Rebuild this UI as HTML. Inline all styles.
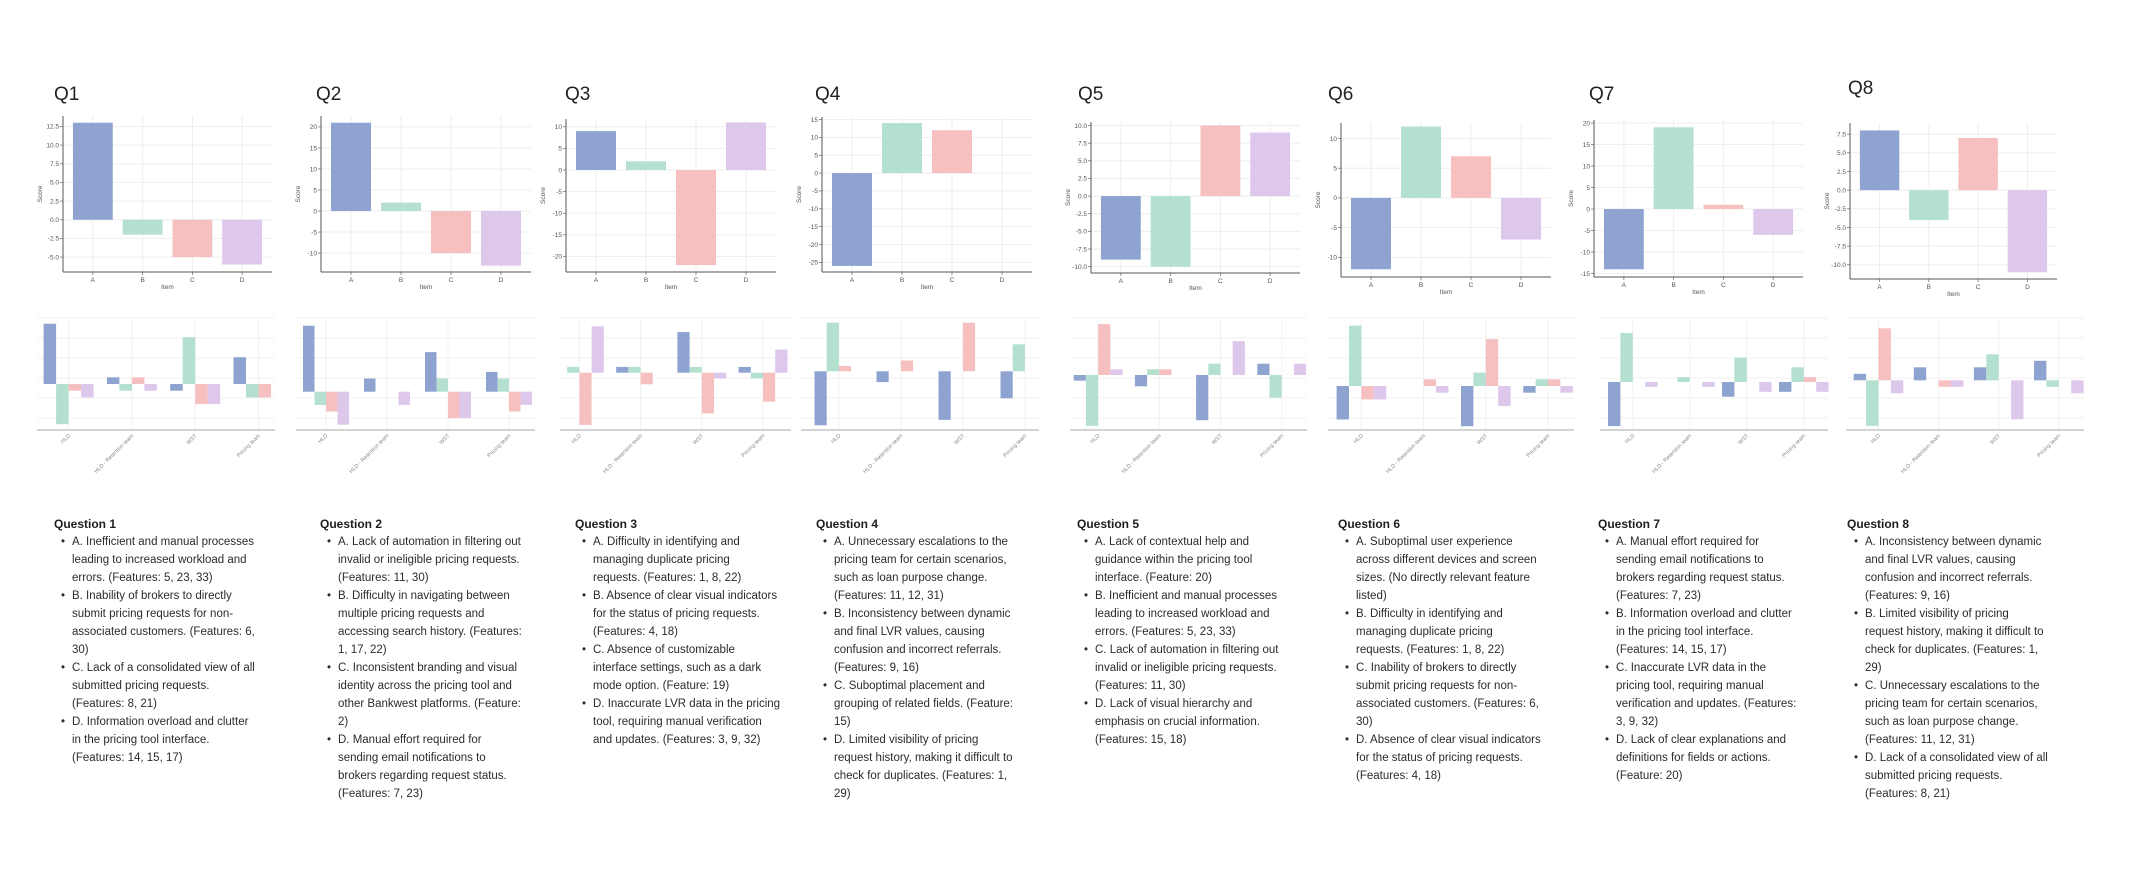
<!DOCTYPE html>
<html><head><meta charset="utf-8"><title>Q1-Q8 charts</title>
<style>
html,body{margin:0;padding:0;background:#fff;}
body{width:2133px;height:872px;position:relative;overflow:hidden;font-family:"Liberation Sans",sans-serif;}
svg{position:absolute;left:0;top:0;}
.col{position:absolute;top:515px;font-size:11.5px;line-height:18px;color:#2b2b2b;white-space:nowrap;}
.col h3{margin:0;font-size:12px;font-weight:bold;line-height:18px;color:#1e1e1e;}
.it{position:relative;padding-left:18px;}
.it:before{content:"•";position:absolute;left:7px;top:0;}
</style></head>
<body>
<svg id="chart" width="2133" height="872" viewBox="0 0 2133 872"></svg>

<div class="col" style="left:54px"><h3>Question 1</h3>
<div class="it">A. Inefficient and manual processes<br>leading to increased workload and<br>errors. (Features: 5, 23, 33)</div>
<div class="it">B. Inability of brokers to directly<br>submit pricing requests for non-<br>associated customers. (Features: 6,<br>30)</div>
<div class="it">C. Lack of a consolidated view of all<br>submitted pricing requests.<br>(Features: 8, 21)</div>
<div class="it">D. Information overload and clutter<br>in the pricing tool interface.<br>(Features: 14, 15, 17)</div></div>

<div class="col" style="left:320px"><h3>Question 2</h3>
<div class="it">A. Lack of automation in filtering out<br>invalid or ineligible pricing requests.<br>(Features: 11, 30)</div>
<div class="it">B. Difficulty in navigating between<br>multiple pricing requests and<br>accessing search history. (Features:<br>1, 17, 22)</div>
<div class="it">C. Inconsistent branding and visual<br>identity across the pricing tool and<br>other Bankwest platforms. (Feature:<br>2)</div>
<div class="it">D. Manual effort required for<br>sending email notifications to<br>brokers regarding request status.<br>(Features: 7, 23)</div></div>

<div class="col" style="left:575px"><h3>Question 3</h3>
<div class="it">A. Difficulty in identifying and<br>managing duplicate pricing<br>requests. (Features: 1, 8, 22)</div>
<div class="it">B. Absence of clear visual indicators<br>for the status of pricing requests.<br>(Features: 4, 18)</div>
<div class="it">C. Absence of customizable<br>interface settings, such as a dark<br>mode option. (Feature: 19)</div>
<div class="it">D. Inaccurate LVR data in the pricing<br>tool, requiring manual verification<br>and updates. (Features: 3, 9, 32)</div></div>

<div class="col" style="left:816px"><h3>Question 4</h3>
<div class="it">A. Unnecessary escalations to the<br>pricing team for certain scenarios,<br>such as loan purpose change.<br>(Features: 11, 12, 31)</div>
<div class="it">B. Inconsistency between dynamic<br>and final LVR values, causing<br>confusion and incorrect referrals.<br>(Features: 9, 16)</div>
<div class="it">C. Suboptimal placement and<br>grouping of related fields. (Feature:<br>15)</div>
<div class="it">D. Limited visibility of pricing<br>request history, making it difficult to<br>check for duplicates. (Features: 1,<br>29)</div></div>

<div class="col" style="left:1077px"><h3>Question 5</h3>
<div class="it">A. Lack of contextual help and<br>guidance within the pricing tool<br>interface. (Feature: 20)</div>
<div class="it">B. Inefficient and manual processes<br>leading to increased workload and<br>errors. (Features: 5, 23, 33)</div>
<div class="it">C. Lack of automation in filtering out<br>invalid or ineligible pricing requests.<br>(Features: 11, 30)</div>
<div class="it">D. Lack of visual hierarchy and<br>emphasis on crucial information.<br>(Features: 15, 18)</div></div>

<div class="col" style="left:1338px"><h3>Question 6</h3>
<div class="it">A. Suboptimal user experience<br>across different devices and screen<br>sizes. (No directly relevant feature<br>listed)</div>
<div class="it">B. Difficulty in identifying and<br>managing duplicate pricing<br>requests. (Features: 1, 8, 22)</div>
<div class="it">C. Inability of brokers to directly<br>submit pricing requests for non-<br>associated customers. (Features: 6,<br>30)</div>
<div class="it">D. Absence of clear visual indicators<br>for the status of pricing requests.<br>(Features: 4, 18)</div></div>

<div class="col" style="left:1598px"><h3>Question 7</h3>
<div class="it">A. Manual effort required for<br>sending email notifications to<br>brokers regarding request status.<br>(Features: 7, 23)</div>
<div class="it">B. Information overload and clutter<br>in the pricing tool interface.<br>(Features: 14, 15, 17)</div>
<div class="it">C. Inaccurate LVR data in the<br>pricing tool, requiring manual<br>verification and updates. (Features:<br>3, 9, 32)</div>
<div class="it">D. Lack of clear explanations and<br>definitions for fields or actions.<br>(Feature: 20)</div></div>

<div class="col" style="left:1847px"><h3>Question 8</h3>
<div class="it">A. Inconsistency between dynamic<br>and final LVR values, causing<br>confusion and incorrect referrals.<br>(Features: 9, 16)</div>
<div class="it">B. Limited visibility of pricing<br>request history, making it difficult to<br>check for duplicates. (Features: 1,<br>29)</div>
<div class="it">C. Unnecessary escalations to the<br>pricing team for certain scenarios,<br>such as loan purpose change.<br>(Features: 11, 12, 31)</div>
<div class="it">D. Lack of a consolidated view of all<br>submitted pricing requests.<br>(Features: 8, 21)</div></div>

<script>
// ---- data ----
const categories = ["A","B","C","D"];
const teams = ["HLD","HLD - Retention team","WST","Pricing team"];
const scoresQ1 = [13,-2,-5,-6];
const scoresQ2 = [21,2,-10,-13];
const scoresQ3 = [9,2,-22,11];
const scoresQ4 = [-26,14,12,0];
const scoresQ5 = [-9,-10,10,9];
const scoresQ6 = [-12,12,7,-7];
const scoresQ7 = [-14,19,1,-6];
const scoresQ8 = [8,-4,7,-11];
const ticksQ1 = [12.5,10,7.5,5,2.5,0,-2.5,-5];
const ticksQ2 = [20,15,10,5,0,-5,-10];
const ticksQ3 = [10,5,0,-5,-10,-15,-20];
const ticksQ4 = [15,10,5,0,-5,-10,-15,-20,-25];
const ticksQ5 = [10,7.5,5,2.5,0,-2.5,-5,-7.5,-10];
const ticksQ6 = [10,5,0,-5,-10];
const ticksQ7 = [20,15,10,5,0,-5,-10,-15];
const ticksQ8 = [7.5,5,2.5,0,-2.5,-5,-7.5,-10];
const domainQ1=[-7,13.9], domainQ2=[-14.5,22.6], domainQ3=[-23.6,11.8], domainQ4=[-27.7,15.7];
const domainQ5=[-10.9,10.5], domainQ6=[-13.3,12.6], domainQ7=[-15.8,20.7], domainQ8=[-11.9,9];
// team breakdown: per team [A,B,C,D]
const teamQ1 = [[9,-6,-1,-2],[1,-1,1,-1],[-1,7,-3,-3],[4,-2,-2,0]];
const teamQ2 = [[10,-2,-3,-5],[2,0,0,-2],[6,2,-4,-4],[3,2,-3,-2]];
const teamQ3 = [[0,1,-9,8],[1,1,-2,0],[7,1,-7,-1],[1,-1,-5,4]];
const teamQ4 = [[-10,9,1,0],[-2,0,2,0],[-9,0,9,0],[-5,5,0,0]];
const teamQ5 = [[-1,-9,9,1],[-2,1,1,0],[-8,2,0,6],[2,-4,0,2]];
const teamQ6 = [[-5,9,-2,-2],[0,0,1,-1],[-6,2,7,-3],[-1,1,1,-1]];
const teamQ7 = [[-9,10,0,-1],[0,1,0,-1],[-3,5,0,-2],[-2,3,1,-2]];
const teamQ8 = [[1,-7,8,-2],[2,0,-1,-1],[2,4,0,-6],[3,-1,0,-2]];

// ---- layout (not data) ----
const colors = ["#8fa3d0","#b4e0cf","#f7c0c0","#ddc8ec"];
const topCharts = [
 {t:"Q1",tx:54,ty:100,box:[63,272,116,272],s:scoresQ1,k:ticksQ1,d:domainQ1,dec:1},
 {t:"Q2",tx:316,ty:100,box:[321,531,116,272],s:scoresQ2,k:ticksQ2,d:domainQ2,dec:0},
 {t:"Q3",tx:565,ty:100,box:[566,776,119,272],s:scoresQ3,k:ticksQ3,d:domainQ3,dec:0},
 {t:"Q4",tx:815,ty:100,box:[822,1032,117,272],s:scoresQ4,k:ticksQ4,d:domainQ4,dec:0},
 {t:"Q5",tx:1078,ty:100,box:[1091,1300,122,273],s:scoresQ5,k:ticksQ5,d:domainQ5,dec:1},
 {t:"Q6",tx:1328,ty:100,box:[1341,1551,123,277],s:scoresQ6,k:ticksQ6,d:domainQ6,dec:0},
 {t:"Q7",tx:1589,ty:100,box:[1594,1803,120,277],s:scoresQ7,k:ticksQ7,d:domainQ7,dec:0},
 {t:"Q8",tx:1848,ty:94,box:[1850,2057,123,279],s:scoresQ8,k:ticksQ8,d:domainQ8,dec:1}
];
const botCharts = [
 {L:37,R:275,g0:43.6,p:63.3,bw:12.5,z:384,u:6.7,v:teamQ1},
 {L:296,R:535,g0:303,p:61,bw:11.5,z:391.7,u:6.6,v:teamQ2},
 {L:560,R:791,g0:555,p:61.2,bw:12.2,z:372.7,u:5.8,v:teamQ3},
 {L:801,R:1039,g0:814.5,p:62,bw:12.2,z:371.3,u:5.4,v:teamQ4},
 {L:1070,R:1307,g0:1073.7,p:61.2,bw:12.2,z:375,u:5.65,v:teamQ5},
 {L:1328,R:1574,g0:1336.6,p:62.2,bw:12.4,z:386,u:6.7,v:teamQ6},
 {L:1600,R:1828,g0:1608,p:57,bw:12.4,z:382,u:4.9,v:teamQ7},
 {L:1846,R:2084,g0:1853.7,p:60.1,bw:12.4,z:380.3,u:6.5,v:teamQ8}
];

const NS="http://www.w3.org/2000/svg";
const svg=document.getElementById("chart");
function mk(tag,attrs,parent){const e=document.createElementNS(NS,tag);for(const a in attrs)e.setAttribute(a,attrs[a]);(parent||svg).appendChild(e);return e;}

topCharts.forEach((c,ci)=>{
  const g=mk("g",{});
  
  
  const [L,R,T,B]=c.box;
  const x=i=>L+(i+0.6)/4.2*(R-L);
  const y=v=>T+(c.d[1]-v)/(c.d[1]-c.d[0])*(B-T);
  const bw=0.8/4.2*(R-L);
  const title=mk("text",{x:c.tx,y:c.ty,"font-size":"19","fill":"#222","font-family":"Liberation Sans, sans-serif"},g);
  title.textContent=c.t;
  
  
  c.k.forEach(t=>{
    const gl=mk("line",{x1:L,x2:R,y1:y(t),y2:y(t),stroke:"#eeeeee","stroke-width":1},g);
    
    
    mk("line",{x1:L-3,x2:L,y1:y(t),y2:y(t),stroke:"#666","stroke-width":0.7},g);
    const tl=mk("text",{x:L-4,y:y(t)+2.3,"font-size":"6.5","text-anchor":"end",fill:"#555"},g);
    tl.textContent=c.dec?t.toFixed(1):String(t);
    
    
  });
  categories.forEach((cat,i)=>{
    mk("line",{x1:x(i),x2:x(i),y1:T,y2:B,stroke:"#eeeeee","stroke-width":1},g);
    const v=c.s[i];
    const r=mk("rect",{x:x(i)-bw/2,y:Math.min(y(v),y(0)),width:bw,height:Math.abs(y(v)-y(0)),fill:colors[i]},g);
    
    
    mk("line",{x1:x(i),x2:x(i),y1:B,y2:B+3,stroke:"#666","stroke-width":0.7},g);
    const xl=mk("text",{x:x(i),y:B+10,"font-size":"6.5","text-anchor":"middle",fill:"#555"},g);
    xl.textContent=cat;
    
    
  });
  mk("line",{x1:L,x2:L,y1:T,y2:B,stroke:"#555","stroke-width":1},g);
  mk("line",{x1:L,x2:R,y1:B,y2:B,stroke:"#555","stroke-width":1},g);
  const it=mk("text",{x:(L+R)/2,y:B+17,"font-size":"6.5","text-anchor":"middle",fill:"#555"},g);
  it.textContent="Item";
  
  
  const sx=L-21, sy=(T+B)/2;
  const sc=mk("text",{x:sx,y:sy,"font-size":"6.5","text-anchor":"middle",fill:"#555",transform:"rotate(-90 "+sx+" "+sy+")"},g);
  sc.textContent="Score";
  
  
});

botCharts.forEach((c,ci)=>{
  const g=mk("g",{});
  
  
  const axisY=430;
  const y=v=>c.z-v*c.u;
  [318,338,358,378,398,418].forEach(gy=>mk("line",{x1:c.L,x2:c.R,y1:gy,y2:gy,stroke:"#f1f1f1","stroke-width":1},g));
  teams.forEach((tm,gi)=>{
    const cx=c.g0+gi*c.p+2*c.bw;
    mk("line",{x1:cx,x2:cx,y1:318,y2:axisY,stroke:"#f1f1f1","stroke-width":1},g);
    categories.forEach((cat,i)=>{
      const v=c.v[gi][i];
      const r=mk("rect",{x:c.g0+gi*c.p+i*c.bw,y:Math.min(y(v),y(0)),width:c.bw,height:Math.abs(y(v)-y(0)),fill:colors[i]},g);
      
      
    });
    const tx=cx+2, ty=axisY+6;
    const tl=mk("text",{x:tx,y:ty,"font-size":"5.5","text-anchor":"end",fill:"#888",transform:"rotate(-45 "+tx+" "+ty+")"},g);
    tl.textContent=tm;
    
    
  });
  mk("line",{x1:c.L,x2:c.R,y1:axisY,y2:axisY,stroke:"#bbb","stroke-width":1.2},g);
});
</script>
</body></html>
